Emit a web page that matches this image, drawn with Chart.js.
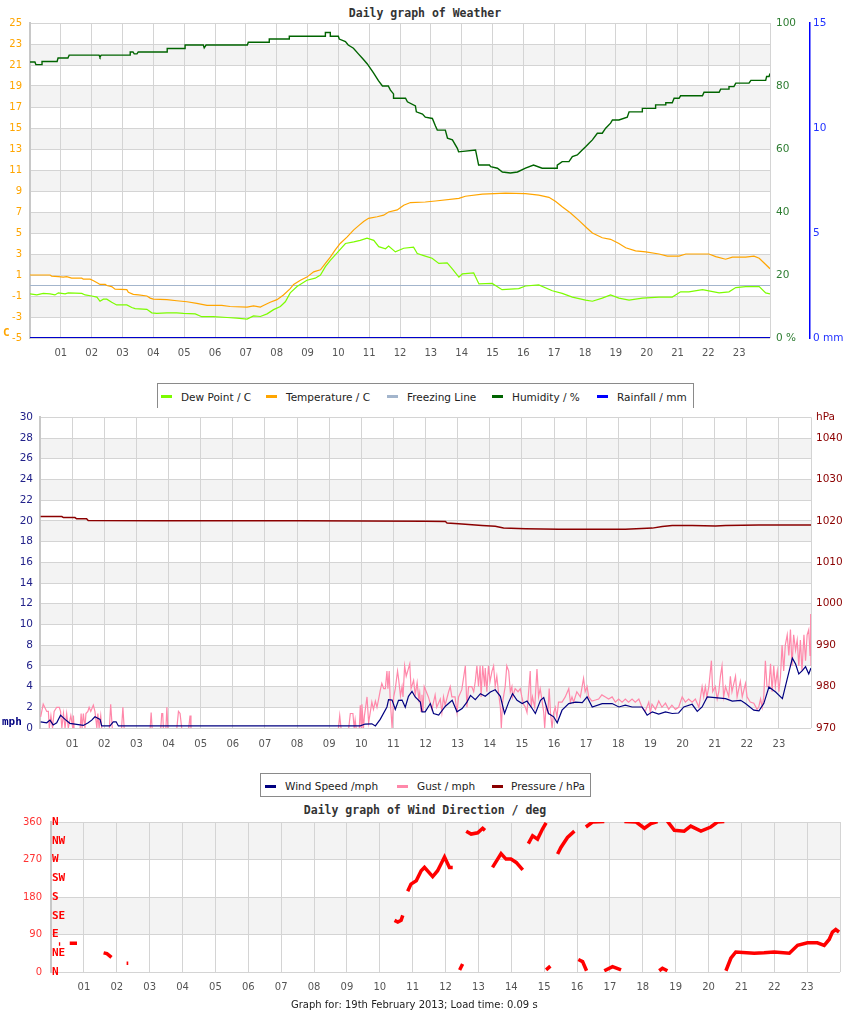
<!DOCTYPE html>
<html>
<head>
<meta charset="utf-8">
<script src="https://cdn.jsdelivr.net/npm/chart.js@4.4.1/dist/chart.umd.min.js"></script>
<style>
html,body{margin:0;padding:0;background:#fff;}
body{position:relative;width:850px;height:1017px;overflow:hidden;font-family:"DejaVu Sans",sans-serif;}
canvas{position:absolute;left:0;}
.ttl{position:absolute;left:0;width:850px;text-align:center;font-family:"DejaVu Sans Mono",monospace;font-weight:bold;font-size:11.5px;line-height:14px;color:#333;}
.lg{position:absolute;background:#fff;border:1px solid #8a8a8a;box-sizing:border-box;z-index:5;}
.lg .mk{position:absolute;width:11px;height:3px;}
.lg .tx{position:absolute;font-size:10.5px;line-height:14px;color:#222;white-space:nowrap;}
.unit{position:absolute;font-family:"DejaVu Sans Mono",monospace;font-weight:bold;font-size:11px;line-height:12px;}
.foot{position:absolute;font-size:10px;line-height:12px;color:#222;white-space:nowrap;}
</style>
</head>
<body>
<div class="ttl" style="top:6px;">Daily graph of Weather</div>
<canvas id="cA" width="850" height="370" style="top:0px;"></canvas>
<span class="unit" style="left:3px;top:327px;color:#FFA500;">C</span>
<div class="lg" style="left:157px;top:383px;width:537px;height:25px;border-bottom:none;">
  <span class="mk" style="left:3px;top:11px;background:#7CFC00;"></span><span class="tx" style="left:23px;top:6px;">Dew Point / C</span>
  <span class="mk" style="left:108px;top:11px;background:#FFA500;"></span><span class="tx" style="left:128px;top:6px;">Temperature / C</span>
  <span class="mk" style="left:229px;top:11px;background:#A3B5CC;"></span><span class="tx" style="left:249px;top:6px;">Freezing Line</span>
  <span class="mk" style="left:334px;top:11px;background:#006400;"></span><span class="tx" style="left:354px;top:6px;">Humidity / %</span>
  <span class="mk" style="left:439px;top:11px;background:#0000FF;"></span><span class="tx" style="left:459px;top:6px;">Rainfall / mm</span>
</div>
<canvas id="cB" width="850" height="356" style="top:404px;"></canvas>
<span class="unit" style="left:2px;top:716px;color:#000080;">mph</span>
<div class="lg" style="left:260px;top:773px;width:331px;height:24px;">
  <span class="mk" style="left:4px;top:11px;background:#000080;"></span><span class="tx" style="left:24px;top:5px;">Wind Speed /mph</span>
  <span class="mk" style="left:136px;top:11px;background:#FF88AA;"></span><span class="tx" style="left:156px;top:5px;">Gust / mph</span>
  <span class="mk" style="left:231px;top:11px;background:#8B0000;"></span><span class="tx" style="left:250px;top:5px;">Pressure / hPa</span>
</div>
<div class="ttl" style="top:803px;">Daily graph of Wind Direction / deg</div>
<canvas id="cC" width="850" height="193" style="top:807px;"></canvas>
<div class="foot" style="left:291px;top:999px;">Graph for: 19th February 2013; Load time: 0.09 s</div>

<script>
// ---------------- DATA ----------------
const hourTicks = [0,1,2,3,4,5,6,7,8,9,10,11,12,13,14,15,16,17,18,19,20,21,22,23,24];
const hourLabels = ['','01','02','03','04','05','06','07','08','09','10','11','12','13','14','15','16','17','18','19','20','21','22','23',''];

// Temperature (C)
const tempTime = [0.00,0.65,0.70,0.92,1.08,1.19,1.35,1.68,1.73,1.95,2.06,2.22,2.27,2.44,2.49,2.65,2.76,3.14,3.19,3.35,3.52,3.79,3.90,4.00,4.44,4.76,5.09,5.41,5.74,6.22,6.49,7.04,7.25,7.47,7.57,7.79,8.01,8.22,8.44,8.55,8.77,8.98,9.20,9.42,9.58,9.74,9.90,10.06,10.28,10.50,10.66,10.82,10.98,11.26,11.47,11.63,11.91,12.12,12.34,12.82,13.15,13.91,14.12,14.67,15.42,16.07,16.50,16.83,17.05,17.26,17.53,17.80,18.07,18.24,18.56,18.83,19.10,19.32,19.64,19.97,20.40,20.67,21.05,21.27,22.02,22.24,22.56,22.78,23.21,23.48,23.65,23.86,24.00];
const tempVal = [1.0,1.0,0.9,0.85,0.8,0.85,0.7,0.7,0.6,0.6,0.45,0.2,0.1,0.1,0.0,-0.1,-0.35,-0.4,-0.65,-0.85,-0.9,-1.0,-1.2,-1.3,-1.35,-1.45,-1.55,-1.7,-1.9,-1.9,-2.0,-2.05,-1.95,-2.05,-1.9,-1.6,-1.35,-0.9,-0.3,0.1,0.5,0.8,1.3,1.5,2.1,2.7,3.4,4.0,4.6,5.3,5.7,6.1,6.4,6.55,6.7,7.0,7.2,7.65,7.9,7.95,8.05,8.3,8.5,8.7,8.8,8.75,8.6,8.4,8.0,7.5,6.9,6.2,5.45,5.0,4.55,4.4,4.0,3.6,3.3,3.2,3.0,2.8,2.8,3.0,3.0,2.75,2.5,2.7,2.7,2.8,2.6,2.0,1.6];

// Dew point (C)
const dewTime = [0.00,0.22,0.43,0.65,0.81,0.92,1.14,1.24,1.68,1.79,2.00,2.17,2.27,2.38,2.49,2.65,2.81,3.14,3.30,3.41,3.79,3.95,4.11,4.44,4.76,4.98,5.36,5.57,5.95,6.39,6.71,7.04,7.25,7.47,7.69,7.90,8.12,8.28,8.44,8.66,8.98,9.25,9.42,9.58,9.74,9.96,10.23,10.50,10.71,10.93,11.15,11.31,11.53,11.63,11.85,12.12,12.44,12.56,12.82,13.04,13.26,13.53,13.69,13.91,14.02,14.39,14.56,14.99,15.31,15.85,16.07,16.50,16.94,17.26,17.59,18.02,18.24,18.56,18.83,19.10,19.43,19.86,20.40,20.83,21.10,21.37,21.81,22.35,22.67,22.89,23.21,23.65,23.86,24.00];
const dewVal = [-0.8,-0.9,-0.75,-0.8,-0.9,-0.7,-0.8,-0.7,-0.75,-0.9,-1.0,-1.1,-1.5,-1.3,-1.3,-1.6,-1.85,-1.85,-2.1,-2.2,-2.27,-2.6,-2.65,-2.6,-2.6,-2.65,-2.7,-2.97,-2.97,-3.05,-3.1,-3.2,-2.9,-2.95,-2.7,-2.3,-2.0,-1.55,-0.7,-0.1,0.5,0.7,1.0,1.8,2.4,3.1,4.0,4.15,4.3,4.5,4.3,3.7,3.5,3.75,3.2,3.55,3.65,3.05,2.8,2.6,2.1,2.15,1.6,0.8,1.1,1.2,0.15,0.2,-0.4,-0.3,-0.05,0.05,-0.5,-0.75,-1.1,-1.4,-1.5,-1.2,-0.9,-1.2,-1.4,-1.2,-1.1,-1.1,-0.6,-0.6,-0.4,-0.7,-0.6,-0.2,-0.1,-0.1,-0.7,-0.8];

// Freezing line and rainfall
const freezeTime = [0,24];
const freezeVal = [0,0];
const rainTime = [0,24];
const rainVal = [0,0];

// Humidity (%)
const humTime = [0.00,0.16,0.19,0.39,0.39,0.88,0.91,1.23,1.27,2.24,2.27,2.31,3.25,3.25,3.34,3.38,3.47,3.51,4.45,4.45,5.03,5.03,5.62,5.65,5.71,7.05,7.08,7.76,7.76,8.41,8.41,9.58,9.58,9.74,9.74,10.00,10.03,10.23,10.32,10.49,10.65,10.78,10.94,11.04,11.14,11.30,11.43,11.62,11.69,11.79,11.79,12.18,12.24,12.50,12.53,12.73,12.82,13.05,13.15,13.21,13.47,13.54,13.70,13.86,13.90,14.45,14.55,14.90,14.94,15.16,15.32,15.58,15.81,16.07,16.33,16.61,17.10,17.10,17.26,17.48,17.59,17.75,17.91,18.02,18.13,18.24,18.40,18.56,18.67,18.83,18.89,19.10,19.37,19.43,19.86,19.86,20.29,20.29,20.62,20.62,20.83,20.89,21.05,21.10,21.81,21.86,22.35,22.40,22.67,22.67,22.83,22.89,23.32,23.38,23.86,23.89,23.97,24.00];
const humVal = [87.6,87.6,86.8,86.8,87.8,87.8,88.9,88.9,89.8,89.8,89.2,89.8,89.8,90.8,90.8,90.2,90.2,90.8,90.8,91.9,91.9,93.0,93.0,92.1,93.0,93.0,93.9,93.9,94.9,94.9,95.8,95.8,97.0,97.0,95.8,95.8,94.9,94.1,93.0,92.0,90.2,88.8,87.0,85.6,84.2,81.7,80.0,80.0,78.7,77.5,76.1,76.1,75.0,73.7,71.8,71.1,70.1,69.7,67.3,66.0,66.0,63.4,62.9,60.2,59.1,59.7,54.9,54.9,54.4,53.9,52.7,52.4,52.7,53.9,54.9,53.9,53.9,54.9,56.0,56.0,57.6,58.1,59.7,60.7,61.8,62.9,65.0,65.0,66.6,68.2,69.2,69.2,70.1,71.8,71.8,72.9,72.9,74.0,74.0,74.7,74.7,76.1,76.1,76.9,76.9,78.0,78.0,79.0,79.0,79.8,79.8,80.9,80.9,81.8,81.8,83.0,83.0,84.0];

// Wind speed (mph)
const windTime = [0.02,0.21,0.31,0.41,0.52,0.64,0.78,0.93,1.14,1.35,1.50,1.61,1.71,1.87,1.92,2.18,2.28,2.37,2.44,9.97,10.12,10.33,10.44,10.59,10.80,10.85,10.96,11.06,11.16,11.27,11.37,11.47,11.58,11.68,11.84,11.89,11.99,12.15,12.25,12.41,12.62,12.83,12.98,13.14,13.29,13.40,13.55,13.71,13.86,14.02,14.17,14.33,14.46,14.59,14.71,14.85,15.01,15.16,15.32,15.42,15.58,15.68,15.83,15.99,16.10,16.25,16.46,16.67,16.88,17.03,17.19,17.50,17.81,18.02,18.22,18.43,18.74,18.90,19.06,19.26,19.47,19.68,19.88,20.04,20.30,20.46,20.61,20.77,20.93,21.34,21.55,21.81,21.96,22.22,22.38,22.53,22.69,22.90,23.11,23.26,23.42,23.52,23.62,23.73,23.83,23.93,24.00];
const windVal = [0.6,0.5,0.76,0.3,0.5,1.24,0.83,0.45,0.35,0.25,0.5,0.76,1.08,0.83,0.2,0.2,0.6,0.6,0.2,0.2,0.38,0.4,0.2,0.83,2.03,2.74,2.7,1.8,2.67,2.7,2.0,3.06,3.53,3.0,2.5,1.56,1.56,2.36,1.4,1.24,2.1,2.67,1.56,1.88,2.5,3.15,2.74,3.31,3.06,3.47,3.69,3.06,1.4,2.5,3.31,2.67,2.36,2.6,1.88,1.4,2.67,2.93,1.4,1.08,0.5,1.72,2.36,2.5,2.45,3.0,2.03,2.36,2.36,2.03,2.2,2.03,2.03,1.24,1.56,1.34,1.56,1.4,1.45,2.03,2.29,1.6,2.03,3.0,2.95,2.84,2.6,2.67,2.36,1.72,1.65,2.36,3.95,3.47,2.84,4.74,6.75,6.18,5.22,5.54,5.92,5.22,5.8];

// Gust (mph) as [hour, mph]; null breaks the line
const gustReadings = [
[0.02,1.08],[0.10,2.3],[0.21,1.6],[0.26,1.6],[0.29,0],[0.34,1.2],[0.39,0],[0.44,1.6],[0.52,2.0],[0.60,2.0],[0.64,1.6],[0.68,0],[0.73,1.4],[0.78,0],[0.83,1.4],[0.88,0],[0.96,1.2],[1.02,0],[1.04,1.2],[1.06,0],[1.15,null],
[1.25,0],[1.28,1.4],[1.31,0],[1.35,1.4],[1.40,0],[1.43,1.4],[1.49,1.6],[1.53,2.0],[1.58,1.6],[1.66,2.2],[1.71,1.6],[1.77,0],[1.80,1.4],[1.84,0],[1.89,1.2],[1.92,0],[2.0,null],
[2.16,0],[2.20,2.3],[2.25,0],[2.4,null],[2.54,0],[2.58,2.0],[2.62,0],[3.0,null],[3.43,0],[3.46,1.5],[3.49,0],[3.6,null],[3.76,0],[3.79,1.4],[3.82,1.4],[3.84,0],[3.88,null],[3.92,0],[3.95,2.0],[3.98,0],[4.1,null],
[4.26,0],[4.31,1.6],[4.36,1.4],[4.41,0],[4.5,null],[4.63,0],[4.67,1.2],[4.70,0],[7.0,null],
[9.29,0],[9.33,1.2],[9.37,0],[9.5,null],[9.61,0],[9.66,1.4],[9.74,1.4],[9.78,0],[9.81,0.8],[9.84,0],[9.9,null],
[9.94,0],[9.97,2.2],[10.00,0],[10.02,2.3],[10.07,0],[10.10,1.2],[10.18,3.0],[10.23,0.5],[10.33,2.5],[10.38,1.8],[10.44,2.6],[10.49,2.0],[10.56,3.1],[10.59,3.6],[10.64,4.3],[10.70,3.8],[10.75,3.8],[10.80,5.5],[10.83,3.8],[10.87,5.5],[10.90,2.8],[10.96,0],
[11.01,3.0],[11.06,3.8],[11.13,5.5],[11.16,4.8],[11.22,3.1],[11.27,4.0],[11.30,3.0],[11.35,6.0],[11.40,5.0],[11.51,6.2],[11.55,3.8],[11.63,4.6],[11.68,3.2],[11.74,4.4],[11.79,2.8],[11.82,3.4],[11.86,1.6],[11.89,3.2],[11.92,1.6],[11.96,4.0],
[12.09,3.0],[12.20,1.8],[12.30,3.2],[12.35,2.0],[12.46,2.8],[12.51,1.5],[12.56,3.0],[12.61,2.2],[12.72,3.5],[12.77,4.0],[12.82,3.0],[12.92,3.0],[12.98,1.5],
[13.03,3.0],[13.13,3.7],[13.24,6.0],[13.29,2.0],[13.34,4.0],[13.44,4.0],[13.50,3.5],[13.55,4.5],[13.60,6.0],[13.65,4.0],[13.70,6.0],[13.73,3.0],[13.78,6.0],[13.84,4.0],[13.86,5.8],[13.91,3.5],[13.96,6.0],
[14.01,4.5],[14.07,5.5],[14.12,6.0],[14.17,4.0],[14.22,5.0],[14.27,3.5],[14.33,2.0],[14.36,0],[14.40,2.5],[14.48,4.0],[14.53,6.0],[14.59,5.5],[14.64,3.5],[14.69,4.0],[14.71,3.0],[14.79,3.8],[14.88,3.5],[14.95,3.8],
[15.00,3.0],[15.05,2.3],[15.11,2.0],[15.16,1.5],[15.21,3.5],[15.26,5.5],[15.29,2.0],[15.33,3.0],[15.40,2.0],[15.47,5.7],[15.52,3.0],[15.57,3.8],[15.62,2.8],[15.68,1.5],[15.71,0],[15.75,2.0],[15.81,1.5],[15.85,3.8],[15.89,1.5],[15.94,0],[15.99,1.5],
[16.04,2.0],[16.09,1.0],[16.14,2.5],[16.25,2.5],[16.35,3.0],[16.46,3.8],[16.51,2.5],[16.56,3.0],[16.61,2.5],[16.71,3.5],[16.82,3.0],[16.92,4.8],[16.97,3.5],
[17.03,4.0],[17.08,3.0],[17.18,2.6],[17.29,2.7],[17.39,2.8],[17.49,3.2],[17.60,3.0],[17.70,2.8],[17.81,3.0],[17.91,2.5],
[18.01,2.8],[18.12,2.5],[18.22,2.8],[18.32,2.5],[18.43,2.8],[18.53,2.5],[18.64,2.8],[18.74,2.0],[18.84,1.6],[18.95,2.5],
[19.00,1.5],[19.05,2.3],[19.16,1.8],[19.26,2.6],[19.36,2.0],[19.47,2.4],[19.57,1.8],[19.67,2.2],[19.78,1.8],[19.88,2.0],[19.99,3.0],
[20.09,2.5],[20.19,2.8],[20.30,2.5],[20.40,2.8],[20.51,2.0],[20.61,4.0],[20.66,3.0],[20.71,4.0],[20.76,3.0],[20.82,4.0],[20.90,6.5],[20.94,3.5],
[21.02,4.0],[21.08,2.8],[21.13,3.5],[21.18,5.0],[21.23,6.0],[21.28,3.0],[21.34,4.0],[21.44,3.0],[21.49,5.0],[21.54,3.5],[21.65,5.0],[21.70,3.0],[21.80,4.5],[21.86,3.0],[21.96,4.3],
[22.01,3.0],[22.11,2.5],[22.22,2.4],[22.32,1.8],[22.37,2.0],[22.43,2.8],[22.48,2.0],[22.53,3.0],[22.58,6.5],[22.63,4.0],[22.69,4.0],[22.74,6.2],[22.79,3.5],[22.84,6.0],[22.89,4.0],[22.95,5.5],
[23.00,3.5],[23.05,5.0],[23.10,8.0],[23.15,5.5],[23.20,8.0],[23.26,9.0],[23.31,7.0],[23.36,9.5],[23.41,6.0],[23.46,9.0],[23.52,7.5],[23.57,8.5],[23.62,6.0],[23.67,8.5],[23.72,5.5],[23.78,9.0],[23.83,6.5],[23.88,9.0],[23.93,9.5],[23.97,7.0],[23.99,11.0],[24.00,6.0]
];

// Pressure (hPa)
const pressTime = [0.02,0.68,0.73,1.09,1.14,1.45,1.50,3.74,8.10,11.99,12.62,12.67,13.03,13.76,14.17,14.43,15.11,16.15,18.22,19.06,19.37,19.68,20.30,21.03,21.34,22.38,24.00];
const pressVal = [1021.05,1021.05,1020.8,1020.8,1020.5,1020.5,1020.1,1020.0,1020.0,1019.9,1019.85,1019.5,1019.3,1018.9,1018.7,1018.3,1018.1,1017.95,1017.95,1018.25,1018.65,1018.9,1018.9,1018.75,1018.9,1019.0,1019.0];
const pressureTicks = [970,980,990,1000,1010,1020,1030,1040,1045];

// Wind direction (deg) as [hour, deg]; null breaks the trace
const dirReadings = [
[0.00,67],[0.03,67],[0.1,null],[0.24,67],[0.28,67],[0.4,null],[0.57,69],[0.79,69],[1.0,null],
[1.60,46],[1.70,44],[1.84,35],[2.0,null],[2.30,21],[2.35,21],[2.5,null],
[10.45,124],[10.55,120],[10.65,124],[10.70,136],[10.8,null],
[10.85,194],[10.95,211],[11.11,219],[11.26,243],[11.36,251],[11.61,229],[11.76,243],[11.97,276],[12.12,251],[12.22,251],[12.3,null],
[12.43,5],[12.52,19],[12.6,null],
[12.63,338],[12.78,331],[12.98,334],[13.13,345],[13.20,340],[13.3,null],
[13.43,251],[13.69,284],[13.84,271],[13.99,271],[14.15,263],[14.35,245],[14.4,null],
[14.52,308],[14.65,327],[14.80,319],[14.95,343],[15.06,358],[15.06,null],
[15.06,5],[15.19,14],[15.3,null],
[15.41,283],[15.51,299],[15.71,323],[15.92,338],[16.0,null],
[16.04,30],[16.17,25],[16.29,3],[16.29,null],
[16.27,348],[16.47,360],[16.83,361],[16.83,null],
[16.83,3],[17.08,13],[17.34,5],[17.4,null],
[17.44,361],[17.80,360],[18.05,345],[18.25,356],[18.45,361],[18.5,null],
[18.50,3],[18.60,9],[18.75,3],[18.75,null],
[18.75,362],[18.96,340],[19.26,338],[19.46,350],[19.77,338],[20.07,348],[20.27,360],[20.48,361],[20.5,null],
[20.53,3],[20.68,33],[20.83,48],[21.39,45],[21.69,46],[22.00,48],[22.46,45],[22.71,64],[23.01,70],[23.31,70],[23.52,64],[23.67,78],[23.77,96],[23.87,102],[23.97,96]
];
const compassDegs = [0,45,90,135,180,225,270,315,360];
const compassLabels = ['N','NE','E','SE','S','SW','W','NW','N'];

// ---------------- HELPERS ----------------
const xy = (t, v) => t.map((x, i) => ({x: x, y: v[i]}));
const fromPairs = p => p.map(a => ({x: a[0], y: a[1]}));

const bandsPlugin = {
  id: 'bands',
  beforeDraw(chart, args, opts) {
    const s = chart.scales[opts.axis];
    const ca = chart.chartArea;
    const ctx = chart.ctx;
    ctx.save();
    ctx.fillStyle = opts.color;
    const t = s.ticks;
    for (let i = 0; i < t.length - 1; i++) {
      if (i % 2 === 1) {
        const y1 = s.getPixelForValue(t[i].value), y2 = s.getPixelForValue(t[i + 1].value);
        ctx.fillRect(ca.left, Math.min(y1, y2), ca.right - ca.left, Math.abs(y2 - y1));
      }
    }
    ctx.restore();
  }
};

const GRID = '#d4d4d4';
const tickFont = {family: 'DejaVu Sans', size: 10};

function xAxis(h, pad) {
  return {
    type: 'linear', min: 0, max: 24,
    afterBuildTicks: s => { s.ticks = hourTicks.map(v => ({value: v})); },
    ticks: {callback: v => hourLabels[v], color: '#555', font: tickFont, padding: pad, autoSkip: false, maxRotation: 0, minRotation: 0},
    grid: {color: GRID, drawTicks: false},
    border: {display: false},
    afterFit: s => { s.height = h; }
  };
}

const common = {
  responsive: false, animation: false, events: [],
  elements: {point: {radius: 0}, line: {tension: 0}}
};

// ---------------- CHART A ----------------
new Chart(document.getElementById('cA'), {
  type: 'line',
  data: {datasets: [
    {label: 'Dew Point / C', data: xy(dewTime, dewVal), borderColor: '#7CFC00', borderWidth: 1.2, yAxisID: 'y'},
    {label: 'Temperature / C', data: xy(tempTime, tempVal), borderColor: '#FFA500', borderWidth: 1.2, yAxisID: 'y'},
    {label: 'Freezing Line', data: xy(freezeTime, freezeVal), borderColor: '#A3B5CC', borderWidth: 1.2, yAxisID: 'y'},
    {label: 'Humidity / %', data: xy(humTime, humVal), borderColor: '#006400', borderWidth: 1.4, yAxisID: 'yH'},
    {label: 'Rainfall / mm', data: xy(rainTime, rainVal), borderColor: '#0000CC', borderWidth: 2, yAxisID: 'yR'}
  ]},
  options: Object.assign({}, common, {
    layout: {padding: {top: 23, left: 0, right: 0, bottom: 0}},
    plugins: {legend: {display: false}, tooltip: {enabled: false}, bands: {axis: 'y', color: '#f3f3f3'}},
    scales: {
      x: xAxis(32, 9),
      y: {position: 'left', min: -5, max: 25,
          ticks: {stepSize: 2, color: '#FFA500', font: tickFont, padding: 8},
          grid: {color: GRID, drawTicks: false}, border: {color: '#c8c8c8', width: 2},
          afterFit: s => { s.width = 30; }},
      yH: {position: 'right', weight: 0, min: 0, max: 100,
          ticks: {stepSize: 20, color: '#2e7d32', font: {family: 'DejaVu Sans', size: 10.5}, padding: 6, callback: v => v === 0 ? '0 %' : v},
          grid: {drawOnChartArea: false, drawTicks: false}, border: {display: false},
          afterFit: s => { s.width = 40; }},
      yR: {position: 'right', weight: 1, min: 0, max: 15,
          ticks: {stepSize: 5, color: '#2233ff', font: {family: 'DejaVu Sans', size: 10.5}, padding: 3, callback: v => v === 0 ? '0 mm' : v},
          grid: {drawOnChartArea: false, drawTicks: false}, border: {color: '#0000ff', width: 1.5},
          afterFit: s => { s.width = 40; }}
    }
  }),
  plugins: [bandsPlugin]
});

// ---------------- CHART B ----------------
new Chart(document.getElementById('cB'), {
  type: 'line',
  data: {datasets: [
    {label: 'Wind Speed /mph', data: xy(windTime, windVal), borderColor: '#000080', borderWidth: 1.2, yAxisID: 'y'},
    {label: 'Gust / mph', data: fromPairs(gustReadings), borderColor: '#FF88AA', borderWidth: 1.2, yAxisID: 'y', spanGaps: false},
    {label: 'Pressure / hPa', data: xy(pressTime, pressVal), borderColor: '#8B0000', borderWidth: 1.5, yAxisID: 'yP'}
  ]},
  options: Object.assign({}, common, {
    layout: {padding: {top: 10, left: 0, right: 0, bottom: 0}},
    plugins: {legend: {display: false}, tooltip: {enabled: false}, bands: {axis: 'y', color: '#f3f3f3'}},
    scales: {
      x: xAxis(32, 10),
      y: {position: 'left', min: 0, max: 30,
          ticks: {stepSize: 2, color: '#22228a', font: {family: 'DejaVu Sans', size: 10.5}, padding: 7},
          grid: {color: GRID, drawTicks: false}, border: {color: '#c8c8c8', width: 2},
          afterFit: s => { s.width = 40; }},
      yP: {position: 'right', min: 970, max: 1045,
          afterBuildTicks: s => { s.ticks = pressureTicks.map(v => ({value: v})); },
          ticks: {color: '#8b0000', font: {family: 'DejaVu Sans', size: 10.5}, padding: 5, autoSkip: false, callback: v => v === 1045 ? 'hPa' : v},
          grid: {drawOnChartArea: false, drawTicks: false}, border: {display: false},
          afterFit: s => { s.width = 39; }}
    }
  }),
  plugins: [bandsPlugin]
});

// ---------------- CHART C ----------------
new Chart(document.getElementById('cC'), {
  type: 'line',
  data: {datasets: [
    {label: 'Wind Direction / deg', data: fromPairs(dirReadings), borderColor: '#ff0000', borderWidth: 3.5, yAxisID: 'y', spanGaps: false}
  ]},
  options: Object.assign({}, common, {
    layout: {padding: {top: 6, left: 0, right: 10, bottom: 0}},
    plugins: {legend: {display: false}, tooltip: {enabled: false}, bands: {axis: 'y', color: '#f3f3f3'}},
    scales: {
      x: xAxis(28, 9),
      y: {position: 'left', weight: 1, min: 0, max: 360,
          ticks: {stepSize: 90, color: '#ff3333', font: tickFont, padding: 9},
          grid: {color: GRID, drawTicks: false}, border: {color: '#c8c8c8', width: 2},
          afterFit: s => { s.width = 51; }},
      yC: {position: 'left', weight: 0, min: 0, max: 360,
          afterBuildTicks: s => { s.ticks = compassDegs.map(v => ({value: v})); },
          ticks: {mirror: true, padding: 1, autoSkip: false, color: '#ff0000',
                  font: {family: 'DejaVu Sans Mono', size: 11, weight: 'bold'},
                  callback: (v, i) => compassLabels[i]},
          grid: {drawOnChartArea: false, drawTicks: false}, border: {display: false},
          afterFit: s => { s.width = 0; }}
    }
  }),
  plugins: [bandsPlugin]
});
</script>
</body>
</html>
